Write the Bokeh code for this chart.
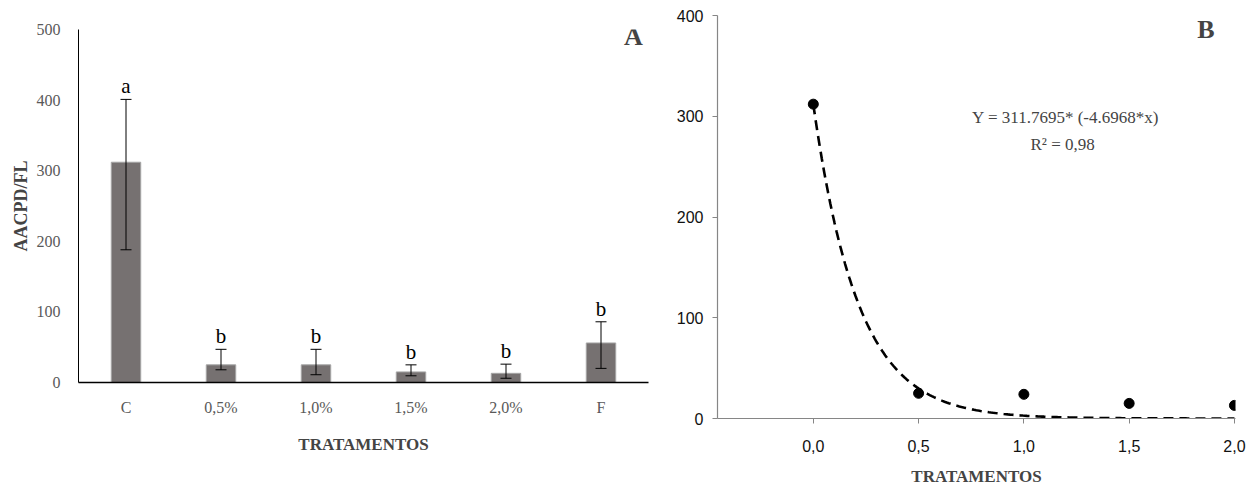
import numpy as np
from bokeh.plotting import figure
from bokeh.layouts import row, column
from bokeh.models import ColumnDataSource, Whisker, TeeHead, Label, FactorRange, FixedTicker
from bokeh.core.properties import value
from bokeh.embed import file_html
from bokeh.resources import INLINE

# ---- Panel A data ----
categories = ["C", "0,5%", "1,0%", "1,5%", "2,0%", "F"]
means = [312, 25, 25, 15, 13, 56]
err_lower = [188, 18, 11, 9.5, 6, 20]
err_upper = [401, 47, 47, 25, 26, 86]
letters = ["a", "b", "b", "b", "b", "b"]
yticks_a = [0, 100, 200, 300, 400, 500]

# ---- Panel B data ----
dose = [0.0, 0.5, 1.0, 1.5, 2.0]
aacpd = [312, 25, 24, 15, 13]
xticks_b = [0.0, 0.5, 1.0, 1.5, 2.0]
xtick_labels_b = ["0,0", "0,5", "1,0", "1,5", "2,0"]
yticks_b = [0, 100, 200, 300, 400]
FIT_A = 311.7695
FIT_B = 4.6968
eq_text = "Y = 311.7695* (-4.6968*x)"
r2_text = "R\u00b2 = 0,98"

SERIF = value("Liberation Serif")

# ================= Panel A =================
pA = figure(x_range=FactorRange(*categories, range_padding=0), y_range=(0, 500),
            width=650, height=474, output_backend="svg", toolbar_location=None,
            min_border_left=78, min_border_right=2, min_border_top=29, min_border_bottom=92)
pA.outline_line_color = None
pA.xgrid.visible = False
pA.ygrid.visible = False

srcA = ColumnDataSource(dict(x=categories, top=means, lower=err_lower, upper=err_upper, lab=letters))
pA.vbar(x="x", top="top", width=0.31, source=srcA, fill_color="#767171", line_color="#a6a6a6", line_width=1)
wh = Whisker(base="x", lower="lower", upper="upper", source=srcA, line_color="black", line_width=1,
             upper_head=TeeHead(size=11, line_color="black", line_width=1),
             lower_head=TeeHead(size=11, line_color="black", line_width=1), level="overlay")
pA.add_layout(wh)
pA.text(x="x", y="upper", text="lab", source=srcA, text_align="center", text_baseline="alphabetic",
        y_offset=-13, text_font=SERIF, text_font_size="21px", text_color="black")

pA.yaxis.ticker = FixedTicker(ticks=yticks_a)
pA.yaxis.major_tick_line_color = None
pA.yaxis.minor_tick_line_color = None
pA.yaxis.axis_line_color = "black"
pA.yaxis.major_label_standoff = 12
pA.yaxis.major_label_text_font = "Liberation Serif"
pA.yaxis.major_label_text_font_size = "16px"
pA.yaxis.major_label_text_color = "#595959"
pA.yaxis.axis_label = "AACPD/FL"
pA.yaxis.axis_label_text_font = "Liberation Serif"
pA.yaxis.axis_label_text_font_style = "bold"
pA.yaxis.axis_label_text_font_size = "18px"
pA.yaxis.axis_label_standoff = 3

pA.xaxis.major_tick_line_color = None
pA.xaxis.minor_tick_line_color = None
pA.xaxis.axis_line_color = "black"
pA.xaxis.axis_line_width = 1.5
pA.xaxis.major_label_standoff = 10
pA.xaxis.major_label_text_font = "Liberation Serif"
pA.xaxis.major_label_text_font_size = "16px"
pA.xaxis.major_label_text_color = "#595959"
pA.xaxis.axis_label = "TRATAMENTOS"
pA.xaxis.axis_label_text_font = "Liberation Serif"
pA.xaxis.axis_label_text_font_style = "bold"
pA.xaxis.axis_label_text_font_size = "17px"
pA.xaxis.axis_label_standoff = 16

pA.add_layout(Label(x=5.84, y=490, text="A", text_align="center", text_baseline="middle",
                    text_font="Liberation Serif", text_font_style="bold", text_font_size="26px"))

# ================= Panel B =================
pB = figure(x_range=(-0.455, 2.005), y_range=(0, 400),
            width=605, height=488, output_backend="svg", toolbar_location=None,
            min_border_left=67, min_border_right=20, min_border_top=15, min_border_bottom=69)
pB.outline_line_color = None
pB.xgrid.visible = False
pB.ygrid.visible = False

xf = np.linspace(0, 2, 200)
yf = FIT_A * np.exp(-FIT_B * xf)
pB.line(xf, yf, line_color="black", line_width=2.6, line_dash="10 6")
pB.scatter(dose, aacpd, size=10, color="black")

for ax in (pB.xaxis, pB.yaxis):
    ax.axis_line_color = "#868686"
    ax.axis_line_width = 1.2
    ax.major_tick_line_color = "#868686"
    ax.major_tick_out = 5
    ax.major_tick_in = 0
    ax.minor_tick_line_color = None
    ax.major_label_text_font = "Liberation Sans"
    ax.major_label_text_font_size = "16px"
    ax.major_label_text_color = "#111111"

pB.yaxis.ticker = FixedTicker(ticks=yticks_b)
pB.yaxis.major_label_standoff = 9
pB.xaxis.ticker = FixedTicker(ticks=xticks_b)
pB.xaxis.major_label_overrides = {t: l for t, l in zip(xticks_b, xtick_labels_b)}
pB.xaxis.major_label_standoff = 16
pB.xaxis.axis_label = "TRATAMENTOS"
pB.xaxis.axis_label_text_font = "Liberation Serif"
pB.xaxis.axis_label_text_font_style = "bold"
pB.xaxis.axis_label_text_font_size = "17px"
pB.xaxis.axis_label_standoff = 12

pB.add_layout(Label(x=1.865, y=386, text="B", text_align="center", text_baseline="middle",
                    text_font="Liberation Serif", text_font_style="bold", text_font_size="26px"))
pB.add_layout(Label(x=1.198, y=299, text=eq_text, text_align="center", text_baseline="middle",
                    text_font="Liberation Serif", text_font_size="17px"))
pB.add_layout(Label(x=1.184, y=272, text=r2_text, text_align="center", text_baseline="middle",
                    text_font="Liberation Serif", text_font_size="17px"))

layout = row(column(pA), column(pB))
open("out.html", "w").write(file_html(layout, INLINE))
